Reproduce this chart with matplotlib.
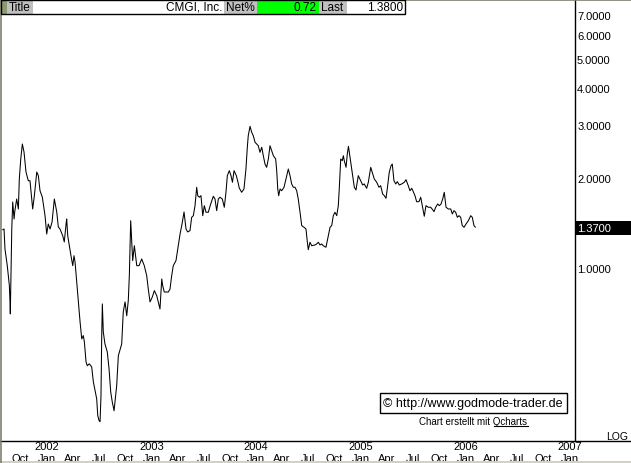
import matplotlib
matplotlib.use("Agg")
import matplotlib.pyplot as plt
from matplotlib.patches import Rectangle
from matplotlib.lines import Line2D
from matplotlib.ticker import NullLocator

plt.rcParams["font.family"] = ["Liberation Sans", "DejaVu Sans"]

W, H = 631, 464

# weekly CMGI closes, decimal year -> price
YEARS = [
    2001.577, 2001.589, 2001.598, 2001.620, 2001.640, 2001.646, 2001.649, 2001.663, 2001.672, 2001.685,
    2001.691, 2001.710, 2001.726, 2001.735, 2001.749, 2001.764, 2001.780, 2001.799, 2001.821, 2001.837,
    2001.863, 2001.879, 2001.902, 2001.917, 2001.933, 2001.955, 2001.981, 2001.997, 2002.012, 2002.029,
    2002.048, 2002.070, 2002.093, 2002.108, 2002.124, 2002.150, 2002.165, 2002.182, 2002.188, 2002.198,
    2002.213, 2002.229, 2002.246, 2002.258, 2002.268, 2002.284, 2002.299, 2002.316, 2002.332, 2002.347,
    2002.357, 2002.373, 2002.385, 2002.404, 2002.427, 2002.443, 2002.462, 2002.475, 2002.485, 2002.497,
    2002.507, 2002.516, 2002.523, 2002.529, 2002.538, 2002.554, 2002.576, 2002.593, 2002.609, 2002.624,
    2002.641, 2002.666, 2002.682, 2002.714, 2002.729, 2002.746, 2002.762, 2002.777, 2002.787, 2002.800,
    2002.810, 2002.819, 2002.835, 2002.858, 2002.880, 2002.905, 2002.930, 2002.953, 2002.968, 2002.985,
    2003.007, 2003.026, 2003.049, 2003.064, 2003.080, 2003.097, 2003.106, 2003.121, 2003.160, 2003.176,
    2003.192, 2003.207, 2003.233, 2003.255, 2003.272, 2003.288, 2003.310, 2003.329, 2003.345, 2003.367,
    2003.383, 2003.399, 2003.415, 2003.431, 2003.441, 2003.456, 2003.472, 2003.489, 2003.504, 2003.520,
    2003.542, 2003.565, 2003.590, 2003.606, 2003.622, 2003.638, 2003.654, 2003.676, 2003.695, 2003.711,
    2003.724, 2003.743, 2003.759, 2003.773, 2003.788, 2003.810, 2003.826, 2003.838, 2003.861, 2003.883,
    2003.902, 2003.915, 2003.924, 2003.941, 2003.957, 2003.972, 2003.989, 2004.005, 2004.020, 2004.036,
    2004.053, 2004.068, 2004.084, 2004.100, 2004.116, 2004.132, 2004.148, 2004.164, 2004.186, 2004.196,
    2004.206, 2004.215, 2004.228, 2004.244, 2004.266, 2004.285, 2004.307, 2004.323, 2004.339, 2004.355,
    2004.371, 2004.387, 2004.402, 2004.419, 2004.435, 2004.457, 2004.476, 2004.489, 2004.498, 2004.514,
    2004.531, 2004.562, 2004.578, 2004.594, 2004.610, 2004.626, 2004.641, 2004.667, 2004.689, 2004.706,
    2004.722, 2004.737, 2004.753, 2004.770, 2004.785, 2004.794, 2004.808, 2004.823, 2004.833, 2004.842,
    2004.859, 2004.871, 2004.882, 2004.902, 2004.923, 2004.938, 2004.954, 2004.976, 2004.999, 2005.018,
    2005.033, 2005.056, 2005.072, 2005.095, 2005.110, 2005.129, 2005.152, 2005.174, 2005.190, 2005.209,
    2005.225, 2005.241, 2005.253, 2005.272, 2005.289, 2005.301, 2005.317, 2005.334, 2005.349, 2005.368,
    2005.391, 2005.416, 2005.432, 2005.454, 2005.470, 2005.487, 2005.502, 2005.518, 2005.534, 2005.556,
    2005.573, 2005.588, 2005.607, 2005.623, 2005.645, 2005.668, 2005.687, 2005.700, 2005.716, 2005.735,
    2005.751, 2005.767, 2005.783, 2005.798, 2005.815, 2005.837, 2005.860, 2005.875, 2005.891, 2005.907,
    2005.923, 2005.939, 2005.955, 2005.970, 2005.987, 2006.006, 2006.028, 2006.051, 2006.066, 2006.082,
    2006.095,
]
PRICES = [
    1.343, 1.350, 1.158, 1.018, 0.873, 0.770, 0.702, 1.350, 1.662, 1.458,
    1.539, 1.701, 1.575, 1.984, 2.315, 2.598, 2.443, 2.094, 1.958, 1.958,
    1.575, 1.745, 2.094, 2.036, 1.813, 1.727, 1.496, 1.299, 1.403, 1.350,
    1.425, 1.701, 1.539, 1.371, 1.350, 1.282, 1.222, 1.403, 1.458, 1.282,
    1.187, 1.099, 1.018, 1.099, 1.047, 0.898, 0.770, 0.660, 0.579, 0.594,
    0.566, 0.485, 0.471, 0.478, 0.467, 0.416, 0.385, 0.365, 0.321, 0.309,
    0.306, 0.374, 0.594, 0.758, 0.611, 0.557, 0.524, 0.460, 0.385, 0.356,
    0.333, 0.404, 0.509, 0.557, 0.713, 0.770, 0.692, 0.778, 0.943, 1.439,
    1.222, 1.058, 1.187, 1.018, 1.018, 1.072, 1.018, 0.943, 0.851, 0.770,
    0.800, 0.840, 0.808, 0.770, 0.729, 0.919, 0.873, 0.831, 0.831, 0.851,
    0.943, 1.018, 1.058, 1.187, 1.299, 1.386, 1.539, 1.350, 1.320, 1.333,
    1.477, 1.496, 1.616, 1.862, 1.745, 1.724, 1.745, 1.496, 1.616, 1.536,
    1.536, 1.637, 1.737, 1.701, 1.555, 1.701, 1.724, 1.701, 1.596, 1.791,
    2.036, 2.116, 2.036, 1.935, 2.116, 2.036, 1.935, 1.851, 1.791, 1.837,
    2.143, 2.533, 2.769, 2.977, 2.843, 2.769, 2.632, 2.598, 2.564, 2.437,
    2.533, 2.374, 2.227, 2.171, 2.315, 2.564, 2.468, 2.374, 2.315, 2.116,
    1.837, 1.745, 1.837, 1.813, 1.862, 1.984, 2.143, 2.036, 1.910, 1.862,
    1.862, 1.813, 1.701, 1.536, 1.386, 1.368, 1.350, 1.219, 1.151, 1.219,
    1.187, 1.194, 1.203, 1.219, 1.194, 1.203, 1.187, 1.173, 1.282, 1.368,
    1.386, 1.496, 1.536, 1.496, 1.616, 1.837, 2.315, 2.285, 2.374, 2.285,
    2.171, 2.405, 2.553, 2.279, 2.011, 1.862, 1.823, 2.036, 1.958, 1.895,
    1.910, 1.847, 1.935, 2.171, 2.089, 1.984, 1.935, 1.862, 1.884, 1.768,
    1.745, 1.710, 1.837, 2.089, 2.198, 2.227, 1.958, 1.910, 1.944, 1.895,
    1.910, 1.935, 1.974, 1.884, 1.813, 1.847, 1.799, 1.745, 1.666, 1.666,
    1.724, 1.616, 1.489, 1.616, 1.596, 1.596, 1.567, 1.543, 1.596, 1.637,
    1.616, 1.637, 1.701, 1.791, 1.596, 1.575, 1.575, 1.516, 1.555, 1.536,
    1.477, 1.496, 1.477, 1.386, 1.368, 1.403, 1.439, 1.496, 1.477, 1.386,
    1.370,
]

LAST_PRICE = 1.37
Y_TICKS = [1, 2, 3, 4, 5, 6, 7]
QUARTER_YEARS = [2001, 2002, 2002, 2002, 2002, 2003, 2003, 2003, 2003, 2004, 2004, 2004, 2004,
                 2005, 2005, 2005, 2005, 2006, 2006, 2006, 2006, 2007]
QUARTER_MONTHS = ["Oct", "Jan", "Apr", "Jul", "Oct", "Jan", "Apr", "Jul", "Oct", "Jan", "Apr", "Jul", "Oct",
                  "Jan", "Apr", "Jul", "Oct", "Jan", "Apr", "Jul", "Oct", "Jan"]
MONTH_FRAC = {"Jan": 0.0, "Apr": 0.2466, "Jul": 0.4959, "Oct": 0.7479}


def fx(px):
    return px / W


def fy(py):
    return 1 - py / H


fig = plt.figure(figsize=(W / 100, H / 100), dpi=100, facecolor="white")
ax = fig.add_axes([fx(1), fy(442), fx(574), 441 / H])
ax.set_facecolor("white")

ax.plot(YEARS, PRICES, color="black", lw=0.75)

ax.set_yscale("log")
ax.set_ylim(0.2638, 7.876)
ax.set_xlim(2001.560, 2007.048)

ax.yaxis.tick_right()
ax.set_yticks(Y_TICKS, [f"{v:.4f}" for v in Y_TICKS])
ax.yaxis.set_minor_locator(NullLocator())
ax.tick_params(axis="y", length=0, pad=1.5, labelsize=8)

q_pos = [y + MONTH_FRAC[m] for y, m in zip(QUARTER_YEARS, QUARTER_MONTHS)]
ax.set_xticks(q_pos, QUARTER_MONTHS)
jan_pos = [p for p, m in zip(q_pos, QUARTER_MONTHS) if m == "Jan"]
jan_years = [str(y) for y, m in zip(QUARTER_YEARS, QUARTER_MONTHS) if m == "Jan"]
ax.xaxis.remove_overlapping_locs = False
ax.set_xticks(jan_pos, jan_years, minor=True)
ax.tick_params(axis="x", which="major", length=0, pad=9, labelsize=8)
ax.tick_params(axis="x", which="minor", length=0, pad=0, labelsize=8)

for side in ["left", "top", "bottom"]:
    ax.spines[side].set_visible(False)
ax.spines["right"].set_linewidth(1.0)

# last price marker on the right scale
fig.patches.append(Rectangle((fx(576), fy(236)), fx(55), 14 / H, transform=fig.transFigure,
                             facecolor="black", edgecolor="none", zorder=5))
fig.text(fx(577), fy(229), f"{LAST_PRICE:.4f}", color="white", fontsize=8, va="center", ha="left",
         zorder=6)

# frame lines
fig.lines.append(Line2D([0, 1], [fy(442), fy(442)], transform=fig.transFigure, color="black", lw=1.0))
fig.lines.append(Line2D([0, 1], [fy(0.5), fy(0.5)], transform=fig.transFigure, color="#7f7f70", lw=1.2))
fig.lines.append(Line2D([fx(0.5), fx(0.5)], [0, 1], transform=fig.transFigure, color="#7f7f70", lw=1.2))
fig.patches.append(Rectangle((0, 0), 1, 2 / H, transform=fig.transFigure, facecolor="#d4d0c8",
                             edgecolor="none"))
fig.text(fx(628), fy(437), "LOG", fontsize=7.5, ha="right", va="center")

# header strip
cells = [
    (1, 7, "#8c9a70", None, None),
    (7, 33, "#c0c0c0", "Title", "left"),
    (33, 224, "white", "CMGI, Inc.", "right"),
    (224, 257, "#c0c0c0", "Net%", "left"),
    (257, 319, "#00ff00", "0.72", "right"),
    (319, 347, "#c0c0c0", "Last", "left"),
    (347, 405, "white", "1.3800", "right"),
]
for x0, x1, col, txt, align in cells:
    fig.patches.append(Rectangle((fx(x0), fy(15)), fx(x1 - x0), 14 / H, transform=fig.transFigure,
                                 facecolor=col, edgecolor="none", zorder=3))
    if txt:
        tx = fx(x0 + 2) if align == "left" else fx(x1 - 2)
        fig.text(tx, fy(8), txt, fontsize=8.5, ha=align, va="center", zorder=4)
fig.patches.append(Rectangle((fx(1), fy(15)), fx(404), 14 / H, transform=fig.transFigure,
                             facecolor="none", edgecolor="black", lw=1.0, zorder=4))

# watermark
fig.text(fx(473), fy(404), "\u00a9 http://www.godmode-trader.de", fontsize=9, ha="center", va="center",
         bbox=dict(boxstyle="square,pad=0.3", facecolor="white", edgecolor="black", lw=1.0))
fig.text(fx(473), fy(422), "Chart erstellt mit Qcharts", fontsize=7, ha="center", va="center")
fig.lines.append(Line2D([fx(494), fx(528)], [fy(427), fy(427)], transform=fig.transFigure,
                        color="black", lw=0.8))

fig.savefig("out.png", dpi=100, facecolor="white")
